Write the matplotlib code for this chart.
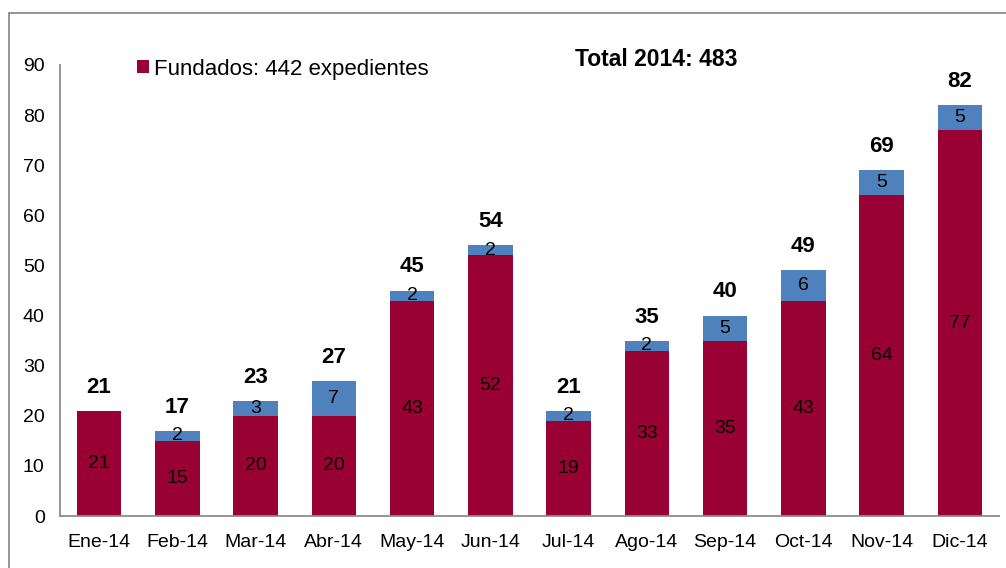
import matplotlib
matplotlib.use("Agg")
import matplotlib.pyplot as plt
from matplotlib.patches import Rectangle, Patch

meses = ["Ene-14", "Feb-14", "Mar-14", "Abr-14", "May-14", "Jun-14",
         "Jul-14", "Ago-14", "Sep-14", "Oct-14", "Nov-14", "Dic-14"]
fundados = [21, 15, 20, 20, 43, 52, 19, 33, 35, 43, 64, 77]
otros = [0, 2, 3, 7, 2, 2, 2, 2, 5, 6, 5, 5]
totales = [f + o for f, o in zip(fundados, otros)]

ROJO = "#990033"
AZUL = "#4F81BD"

plt.rcParams["font.family"] = ["Liberation Sans", "DejaVu Sans"]

fig = plt.figure(figsize=(10.06, 5.68), dpi=100)
ax = fig.add_axes([0.0596, 0.0915, 0.9334, 0.7941])

x = list(range(len(meses)))
w = 0.57
ax.bar(x, fundados, width=w, color=ROJO, edgecolor="none")
ax.bar(x, otros, width=w, bottom=fundados, color=AZUL, edgecolor="none")

for i in x:
    ax.text(i, fundados[i] / 2, str(fundados[i]), ha="center", va="center",
            fontsize=14, color="black")
    if otros[i] > 0:
        ax.text(i, fundados[i] + otros[i] / 2, str(otros[i]), ha="center",
                va="center", fontsize=14, color="black")
    ax.annotate(str(totales[i]), (i, totales[i]), xytext=(0, 17),
                textcoords="offset points", ha="center", va="center",
                fontsize=16, fontweight="bold")

ax.set_xlim(-0.5, len(meses) - 0.5)
ax.set_ylim(0, 90)
ax.set_yticks(range(0, 91, 10))
ax.set_xticks(x)
ax.set_xticklabels(meses)
ax.tick_params(axis="both", length=0, labelsize=14)
ax.tick_params(axis="y", pad=11)
ax.tick_params(axis="x", pad=13)
for s in ("top", "right"):
    ax.spines[s].set_visible(False)
for s in ("left", "bottom"):
    ax.spines[s].set_color("#8c8c8c")
    ax.spines[s].set_linewidth(1.3)

ax.legend(handles=[Patch(facecolor=ROJO, label="Fundados: 442 expedientes")],
          loc="center left", bbox_to_anchor=(137 / 1006, 1 - 69 / 568),
          bbox_transform=fig.transFigure, frameon=False, fontsize=16,
          handlelength=0.55, handleheight=0.55, handletextpad=0.2,
          borderaxespad=0, borderpad=0)

fig.text(656 / 1006, 1 - 60 / 568, "Total 2014: 483", ha="center", va="center",
         fontsize=16.5, fontweight="bold")

fig.patches.append(Rectangle((9 / 1006, -0.1), 1.2, 1 - 13 / 568 + 0.1,
                             transform=fig.transFigure, fill=False,
                             edgecolor="#8c8c8c", linewidth=1.3))

fig.savefig("out.png", dpi=100)
